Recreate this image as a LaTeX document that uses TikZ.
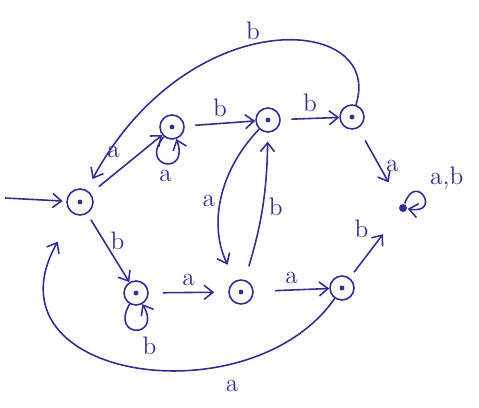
\documentclass[tikz,border=0pt]{standalone}
\usetikzlibrary{arrows.meta}
\definecolor{ink}{RGB}{48,48,140}
\tikzset{
  state/.style={circle,draw,minimum size=0.48cm,inner sep=0pt,
    path picture={\fill (path picture bounding box.center) circle (1.4pt);}},
  sink/.style={circle,fill,inner sep=1.6pt},
}
\begin{document}
\begin{tikzpicture}[x=0.02cm,y=-0.02cm,ink,line width=0.9pt,
    >={Straight Barb[length=5pt,width=8pt]},every node/.style={font=\Large}]
  \useasboundingbox (0,0) rectangle (479,408);
  % states
  \node[state,minimum size=0.52cm] (q0) at (80,202) {};
  \node[state] (q1) at (172,127) {};
  \node[state] (q2) at (268,120) {};
  \node[state] (q3) at (352,117) {};
  \node[sink] (s) at (403,208) {};
  \node[state] (q4) at (136,293) {};
  \node[state] (q5) at (241,292) {};
  \node[state] (q6) at (342,288) {};
  \coordinate (in) at (5,198);
  % upper row
  \draw[->,shorten >=2pt] (in) -- (q0);
  \draw[->,shorten <=6pt] (q0) -- node[above left]{a} (q1);
  \draw[->] (q1) to[loop,out=-130,in=-70,min distance=0.8cm] node[below]{a} (q1);
  \draw[->,shorten <=6pt] (q1) -- node[above]{b} (q2);
  \draw[->,shorten <=6pt] (q2) -- node[above]{b} (q3);
  \draw[->,shorten >=7pt] (q3) .. controls (385,15) and (190,0) .. node[pos=0.55,above]{b} (q0);
  \draw[->,shorten <=8pt,shorten >=14pt] (q3) -- node[right]{a} (s);
  \draw[->] (s) to[loop,out=70,in=-10,min distance=0.7cm] node[above right]{a,b} (s);
  % middle
  \draw[->,shorten >=10pt] (q2) to[bend right=35] node[left]{a} (q5);
  \draw[->,shorten <=8pt,shorten >=5pt] (q5) to[bend right=8] node[right]{b} (q2);
  % lower row
  \draw[->,shorten <=4pt] (q0) -- node[pos=0.4,right]{b} (q4);
  \draw[->] (q4) to[loop,out=-120,in=-60,min distance=0.8cm] node[below right]{b} (q4);
  \draw[->,shorten <=8pt,shorten >=8pt] (q4) -- node[above]{a} (q5);
  \draw[->,shorten <=12pt] (q5) -- node[above]{a} (q6);
  \draw[->,shorten <=4pt,shorten >=16pt] (q6) -- node[above left]{b} (s);
  \draw[->,shorten >=18pt] (q6) .. controls (250,420) and (-20,380) .. node[pos=0.28,below=6pt]{a} (q0);
\end{tikzpicture}
\end{document}
